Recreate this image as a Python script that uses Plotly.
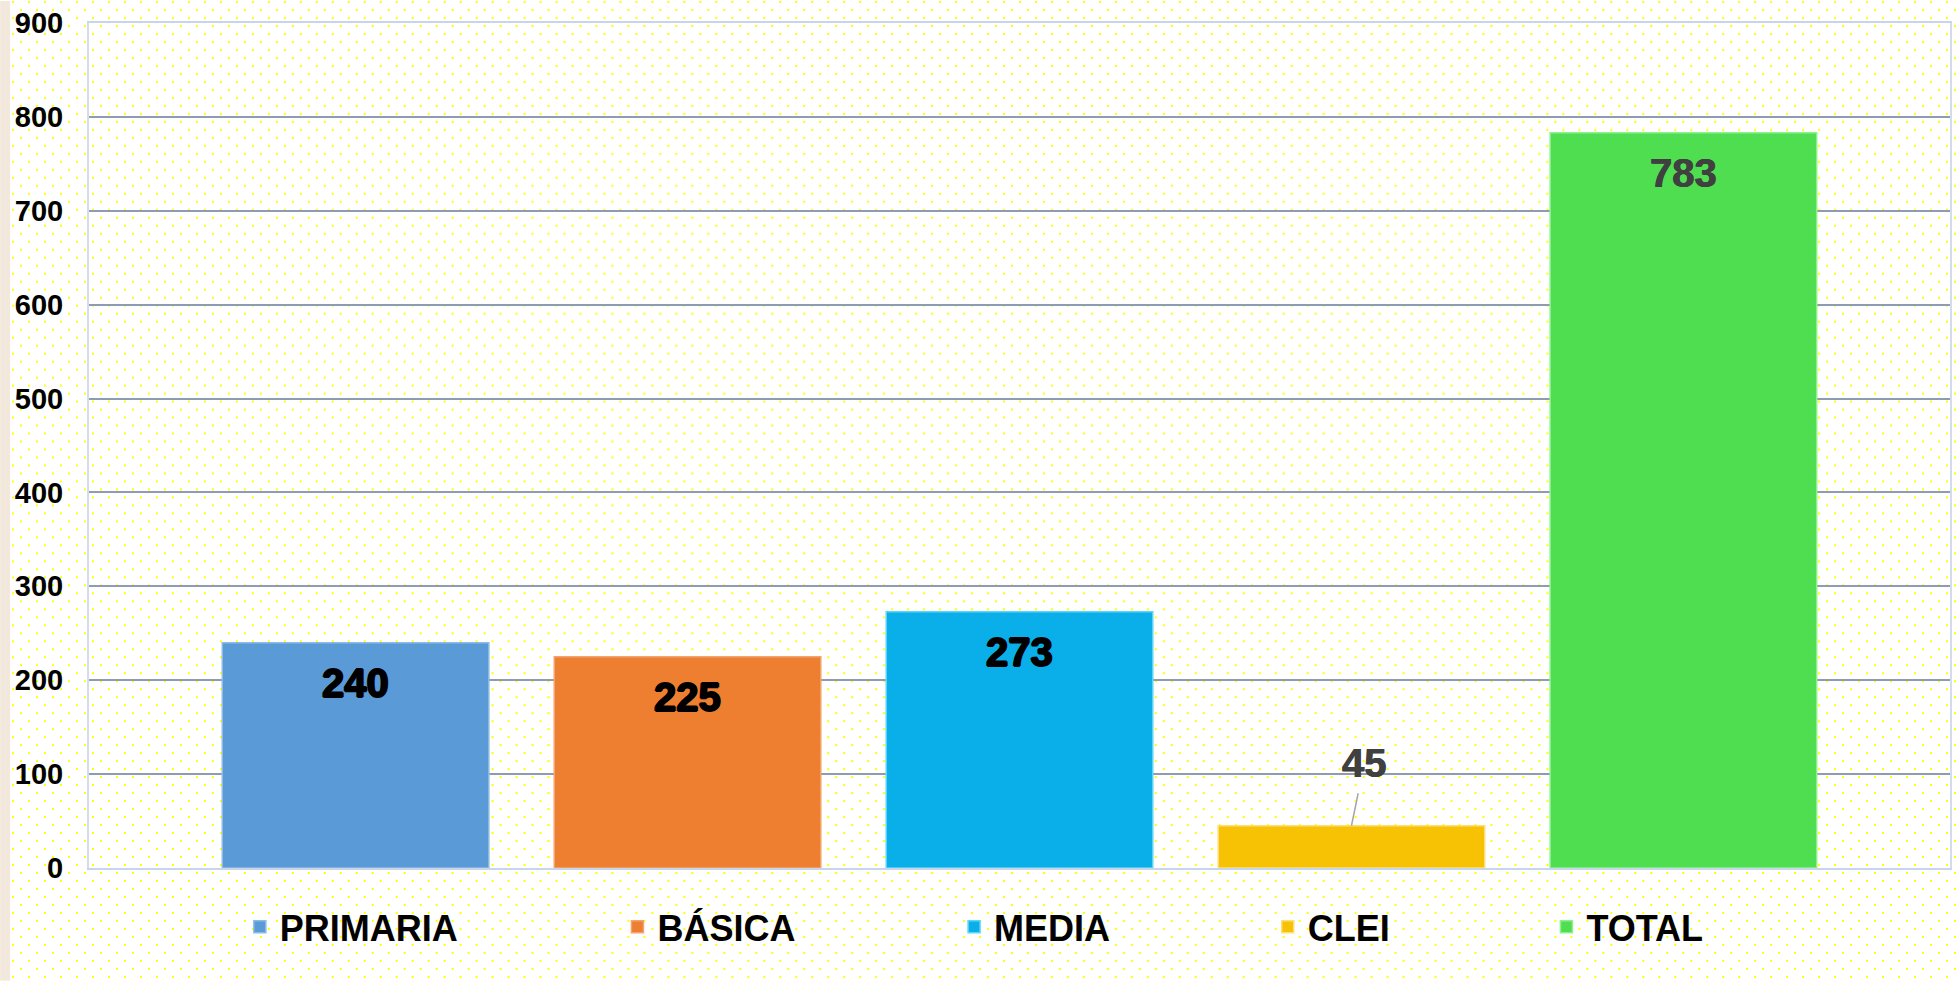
import base64
import plotly.graph_objects as go

categories = ["PRIMARIA", "BÁSICA", "MEDIA", "CLEI", "TOTAL"]
values = [240, 225, 273, 45, 783]
bar_colors = ["#5A9AD6", "#EE7E30", "#0AAEE9", "#F7C203", "#4FDE50"]
edge_colors = ["#8CBCE6", "#F2A46E", "#5CD6F8", "#FBE07A", "#8EF08E"]
label_colors = ["#000000", "#000000", "#000000", "#404040", "#404040"]
y_ticks = [0, 100, 200, 300, 400, 500, 600, 700, 800, 900]

W, H = 1959, 981
ML, MR, MT, MB = 89, 7, 22, 113
PW, PH = W - ML - MR, H - MT - MB

# dotted background (decoration)
svg = f'''<svg xmlns="http://www.w3.org/2000/svg" width="{W}" height="{H}">
<defs><pattern id="p" x="12" y="0" width="16" height="16" patternUnits="userSpaceOnUse">
<rect x="0" y="0" width="2" height="2" fill="#FFFF00"/><rect x="8" y="8" width="2" height="2" fill="#FFFF00"/>
</pattern></defs>
<rect x="0" y="0" width="{W}" height="{H}" fill="#FFFFFF"/>
<rect x="0" y="0" width="10" height="{H}" fill="#F2E8DC"/>
<rect x="10" y="0" width="{W-10}" height="{H}" fill="url(#p)"/>
</svg>'''
src = "data:image/svg+xml;base64," + base64.b64encode(svg.encode()).decode()

fig = go.Figure()
legend_text_px = [280, 658, 995, 1309, 1588]
for i, (c, v) in enumerate(zip(categories, values)):
    lg = "legend" if i == 0 else f"legend{i+1}"
    fig.add_trace(go.Bar(
        x=[c], y=[v], name=c, width=0.803,
        marker=dict(color=bar_colors[i], line=dict(color=edge_colors[i], width=1.5)),
        legend=lg, hoverinfo="skip",
    ))

font_fam = "Liberation Sans, Arial, sans-serif"
layout_legends = {}
for i, tx in enumerate(legend_text_px):
    lg = "legend" if i == 0 else f"legend{i+1}"
    layout_legends[lg] = dict(
        x=(tx - 40 - ML) / PW, y=(MT + PH - 927) / PH, xanchor="left", yanchor="middle",
        orientation="h", bgcolor="rgba(0,0,0,0)", borderwidth=0,
        font=dict(family=font_fam, size=36, color="#000000", weight="bold"),
    )

annotations = []
for i, (c, v) in enumerate(zip(categories, values)):
    if v < 100:
        annotations.append(dict(
            x=c, y=v, xref="x", yref="y", text=str(v), showarrow=True,
            arrowhead=0, arrowwidth=1.5, arrowcolor="#A6A6A6", ax=13, ay=-63,
            borderpad=8, standoff=0,
            font=dict(family=font_fam, size=40, color=label_colors[i], weight="bold",
                      shadow="0.6px 0 0 #404040, -0.6px 0 0 #404040"),
        ))
    else:
        heavy = label_colors[i] == "#000000"
        annotations.append(dict(
            x=c, y=v, xref="x", yref="y", text=str(v), showarrow=False,
            yshift=-40, yanchor="middle",
            font=dict(family=font_fam, size=40, color=label_colors[i], weight="bold",
                      shadow=("1px 0 0 #000, -1px 0 0 #000, 0 1px 0 #000, 0 -1px 0 #000" if heavy
                              else "0.6px 0 0 #404040, -0.6px 0 0 #404040")),
        ))

fig.update_layout(
    width=W, height=H,
    margin=dict(l=ML, r=MR, t=MT, b=MB, pad=0),
    paper_bgcolor="#FFFFFF", plot_bgcolor="rgba(0,0,0,0)",
    barmode="overlay", showlegend=True,
    images=[dict(source=src, xref="paper", yref="paper", x=-ML / PW, y=1 + MT / PH,
                 sizex=W / PW, sizey=H / PH, xanchor="left", yanchor="top",
                 sizing="stretch", layer="below")],
    xaxis=dict(type="category", categoryorder="array", categoryarray=categories,
               range=[-0.803, 4.803], showticklabels=False, showgrid=False,
               showline=True, linecolor="#C9D5EA", linewidth=2, mirror=True,
               zeroline=False, fixedrange=True),
    yaxis=dict(range=[0, 900], tickvals=y_ticks, ticktext=[str(t) for t in y_ticks],
               showgrid=True, gridcolor="#8D9BB3", gridwidth=2,
               showline=True, linecolor="#D3DCEC", linewidth=2, mirror=True,
               zeroline=False, ticks="", ticklabelstandoff=18,
               tickfont=dict(family=font_fam, size=29, color="#000000", weight="bold")),
    annotations=annotations,
    **layout_legends,
)

fig.write_html("out.html")
